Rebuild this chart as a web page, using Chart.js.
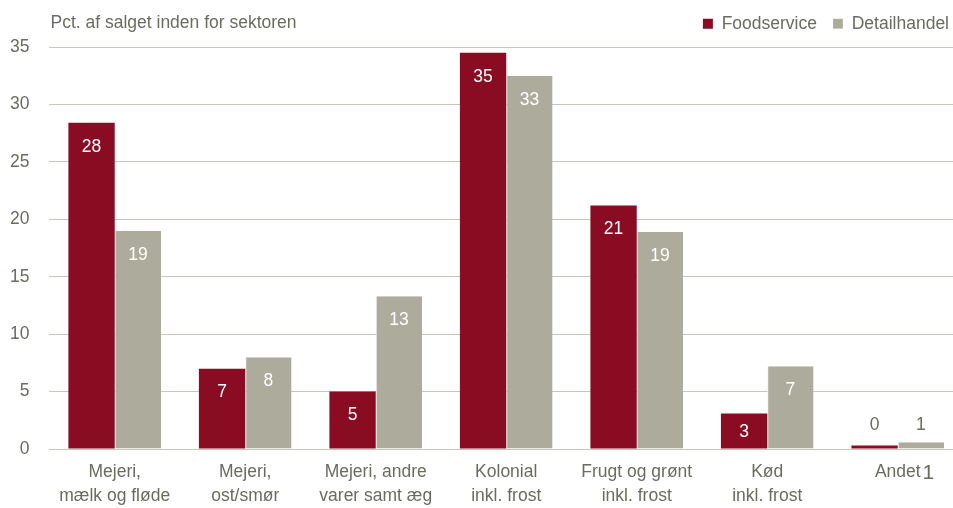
<!DOCTYPE html>
<html>
<head>
<meta charset="utf-8">
<script src="https://cdn.jsdelivr.net/npm/chart.js@4/dist/chart.umd.min.js"></script>
<style>
  body { margin: 0; overflow: hidden; background: #fff; }
</style>
</head>
<body>
<canvas id="myChart" width="963" height="511"></canvas>
<script>
const categories = [
    ['Mejeri,', 'mælk og fløde'],
    ['Mejeri,', 'ost/smør'],
    ['Mejeri, andre', 'varer samt æg'],
    ['Kolonial', 'inkl. frost'],
    ['Frugt og grønt', 'inkl. frost'],
    ['Kød', 'inkl. frost'],
    'Andet'
]
const foodservice = [28.4, 7.0, 5.0, 34.5, 21.2, 3.1, 0.3]
const detailhandel = [19.0, 8.0, 13.3, 32.5, 18.9, 7.2, 0.6]
const yTicks = [0, 5, 10, 15, 20, 25, 30, 35]

const unitTitle = 'Pct. af salget inden for sektoren'
const footnoteMark = '1'

const fontFamily = '"Liberation Sans", Arial, sans-serif'
const textColor = '#6b6b5f'
const red = '#8a0c23'
const grey = '#adab9c'

// title in the top left corner, same row as the legend
const titlePlugin = {
    id: 'unitTitle',
    afterDraw(chart) {
        const ctx = chart.ctx
        ctx.save()
        ctx.font = '17.5px ' + fontFamily
        ctx.fillStyle = textColor
        ctx.textBaseline = 'middle'
        ctx.textAlign = 'left'
        ctx.fillText(unitTitle, chart.chartArea.left + 1, 23)
        ctx.restore()
    }
}

// legend: a bit more room below it, and nudged into place
const legendTweak = {
    id: 'legendTweak',
    beforeInit(chart) {
        const fit = chart.legend.fit
        chart.legend.fit = function () {
            fit.bind(chart.legend)()
            this.height += 3.5
        }
    },
    afterLayout(chart) {
        const lg = chart.legend
        lg.left += 2
        lg.right += 2
        lg.top -= 1
        lg.bottom -= 1
    }
}

// value labels: inside the bar in white, above small bars in grey
const valueLabels = {
    id: 'valueLabels',
    afterDatasetsDraw(chart) {
        const ctx = chart.ctx
        ctx.save()
        ctx.font = '17.5px ' + fontFamily
        ctx.textAlign = 'center'
        ctx.textBaseline = 'middle'
        chart.data.datasets.forEach((ds, i) => {
            const meta = chart.getDatasetMeta(i)
            meta.data.forEach((bar, j) => {
                const v = ds.data[j]
                const h = bar.base - bar.y
                if (v > 2) {
                    ctx.fillStyle = '#ffffff'
                    ctx.fillText(Math.round(v), bar.x, bar.y + Math.min(24, h / 2 + 1))
                } else {
                    ctx.fillStyle = textColor
                    ctx.fillText(Math.round(v), bar.x, bar.base - 23)
                }
            })
        })
        ctx.restore()
    }
}

// raised footnote mark after the last category label
const footnotePlugin = {
    id: 'footnote',
    afterDraw(chart) {
        const ctx = chart.ctx
        const x = chart.scales.x
        const last = categories.length - 1
        ctx.save()
        ctx.font = '17.5px ' + fontFamily
        const w = ctx.measureText(categories[last]).width
        ctx.font = '21px ' + fontFamily
        ctx.fillStyle = textColor
        ctx.textAlign = 'left'
        ctx.textBaseline = 'alphabetic'
        ctx.fillText(footnoteMark, x.getPixelForTick(last) + w / 2 + 2, x.top + 30)
        ctx.restore()
    }
}

const data = {
    labels: categories,
    datasets: [{
        label: 'Foodservice',
        backgroundColor: red,
        borderWidth: 0,
        data: foodservice,
    }, {
        label: 'Detailhandel',
        backgroundColor: grey,
        borderColor: '#f4f3ef',
        borderWidth: { left: 1, top: 0, right: 0, bottom: 0 },
        borderSkipped: 'bottom',
        data: detailhandel,
    }]
}

const config = {
    type: 'bar',
    data: data,
    options: {
        responsive: false,
        animation: false,
        layout: { padding: { top: 0, left: -10, right: 0, bottom: 0 } },
        datasets: {
            bar: { categoryPercentage: 0.71, barPercentage: 1.0 }
        },
        plugins: {
            legend: {
                position: 'top',
                align: 'end',
                labels: {
                    boxWidth: 10,
                    boxHeight: 10,
                    padding: 16,
                    color: textColor,
                    font: { family: fontFamily, size: 17.5 }
                }
            },
            tooltip: { enabled: false }
        },
        scales: {
            x: {
                grid: { display: false },
                border: { display: true, color: '#c8c6ba', width: 1 },
                ticks: {
                    color: textColor,
                    padding: 3,
                    maxRotation: 0,
                    autoSkip: false,
                    font: { family: fontFamily, size: 17.5, lineHeight: 1.37 }
                }
            },
            y: {
                min: 0,
                max: 35,
                afterBuildTicks: (axis) => {
                    axis.ticks = yTicks.map((v) => ({ value: v }))
                },
                grid: { color: '#c8c6ba', lineWidth: 1, drawTicks: false },
                border: { display: false },
                ticks: {
                    color: textColor,
                    padding: 20,
                    font: { family: fontFamily, size: 17.5 }
                }
            }
        }
    },
    plugins: [legendTweak, titlePlugin, valueLabels, footnotePlugin]
}

const myChart = new Chart(
    document.getElementById('myChart'),
    config
)
</script>
</body>
</html>
